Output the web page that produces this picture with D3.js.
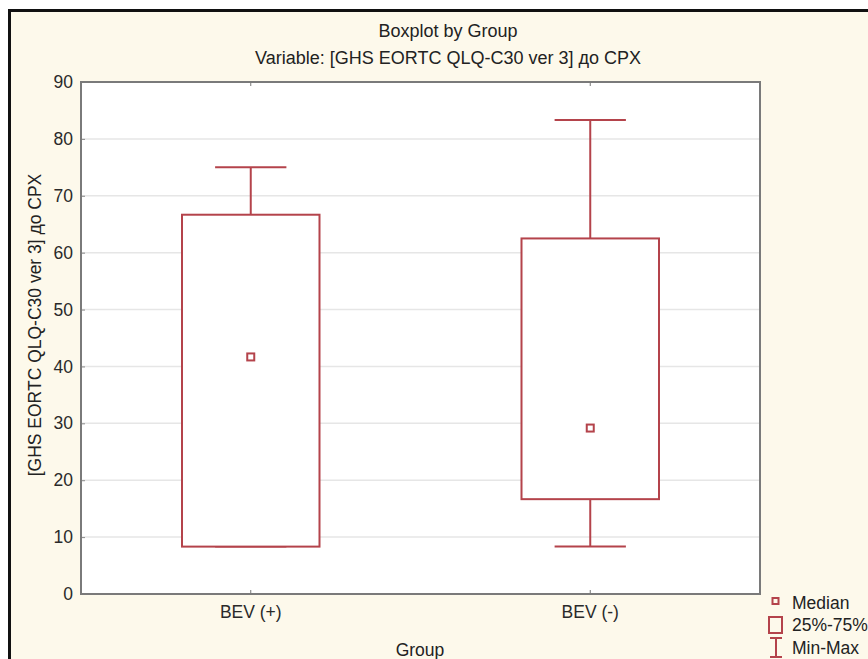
<!DOCTYPE html>
<html><head><meta charset="utf-8">
<script src="https://cdn.jsdelivr.net/npm/d3@7"></script>
<style>body{margin:0;background:#fff;} svg{display:block;font-family:"Liberation Sans",Arial,sans-serif;}</style>
</head><body>
<script>
const categories = ["BEV (+)", "BEV (-)"];
const minVals = [8.33, 8.33];
const q1Vals = [8.33, 16.67];
const medianVals = [41.67, 29.17];
const q3Vals = [66.67, 62.5];
const maxVals = [75, 83.33];
const yTicks = [0, 10, 20, 30, 40, 50, 60, 70, 80, 90];
const title1 = "Boxplot by Group";
const title2 = "Variable: [GHS EORTC QLQ-C30 ver 3]  до CPX";
const yTitle = "[GHS EORTC QLQ-C30 ver 3]  до CPX";
const xTitle = "Group";
const legendLabels = ["Median", "25%-75%", "Min-Max"];

const W = 868, H = 659;
const L = 81, R = 760, T = 82, B = 594;
const red = "#b4434b";
const FS = 17.5;

const svg = d3.select("body").append("svg").attr("width", W).attr("height", H);
svg.append("rect").attr("x", 0).attr("y", 0).attr("width", W).attr("height", H).attr("fill", "#fff");
svg.append("rect").attr("x", 9.5).attr("y", 10.5).attr("width", W + 20).attr("height", H + 20)
  .attr("fill", "#fdf9eb").attr("stroke", "#111").attr("stroke-width", 3);

const x = d3.scaleBand().domain(categories).range([L, R]).padding(0);
const y = d3.scaleLinear().domain([0, 90]).range([B, T]);

svg.append("rect").attr("x", L).attr("y", T).attr("width", R - L).attr("height", B - T).attr("fill", "#fff");

// gridlines
svg.append("g").selectAll("line").data(yTicks.filter(d => d > 0 && d < 90)).join("line")
  .attr("x1", L).attr("x2", R).attr("y1", d => y(d)).attr("y2", d => y(d))
  .attr("stroke", "#e6e6e6").attr("stroke-width", 1.5);

// axes
const yAxis = svg.append("g").attr("transform", `translate(${L},0)`)
  .call(d3.axisLeft(y).tickValues(yTicks).tickSize(-4).tickPadding(8));
yAxis.select(".domain").remove();
yAxis.selectAll("line").attr("stroke", "#888");
yAxis.selectAll("text").attr("font-size", FS).attr("fill", "#2a2a2a").attr("font-family", "Liberation Sans, Arial");

const xAxis = svg.append("g").attr("transform", `translate(0,${B})`)
  .call(d3.axisBottom(x).tickSize(-4).tickPadding(12));
xAxis.select(".domain").remove();
xAxis.selectAll("line").attr("stroke", "#777");
xAxis.selectAll("text").attr("font-size", FS).attr("fill", "#2a2a2a").attr("font-family", "Liberation Sans, Arial");

const xTop = svg.append("g").attr("transform", `translate(0,${T})`)
  .call(d3.axisTop(x).tickSize(-4).tickFormat(""));
xTop.select(".domain").remove();
xTop.selectAll("line").attr("stroke", "#777");

// plot frame
svg.append("rect").attr("x", L).attr("y", T).attr("width", R - L).attr("height", B - T)
  .attr("fill", "none").attr("stroke", "#7a7a7a").attr("stroke-width", 2);

// boxes
const bw = x.bandwidth() * 0.405, cw = x.bandwidth() * 0.21;
const g = svg.append("g").attr("stroke", red).attr("stroke-width", 2).attr("fill", "none");
categories.forEach((c, i) => {
  const cx = x(c) + x.bandwidth() / 2;
  g.append("line").attr("x1", cx).attr("x2", cx).attr("y1", y(maxVals[i])).attr("y2", y(q3Vals[i]));
  g.append("line").attr("x1", cx).attr("x2", cx).attr("y1", y(q1Vals[i])).attr("y2", y(minVals[i]));
  g.append("line").attr("x1", cx - cw / 2).attr("x2", cx + cw / 2).attr("y1", y(maxVals[i])).attr("y2", y(maxVals[i]));
  g.append("line").attr("x1", cx - cw / 2).attr("x2", cx + cw / 2).attr("y1", y(minVals[i])).attr("y2", y(minVals[i]));
  g.append("rect").attr("x", cx - bw / 2).attr("y", y(q3Vals[i])).attr("width", bw)
    .attr("height", y(q1Vals[i]) - y(q3Vals[i])).attr("fill", "#fff");
  g.append("rect").attr("x", cx - 3.5).attr("y", y(medianVals[i]) - 3.5).attr("width", 7).attr("height", 7).attr("fill", "#fff");
});

// titles
svg.append("text").attr("x", 448).attr("y", 37).attr("text-anchor", "middle").attr("font-size", 18)
  .attr("fill", "#222").text(title1);
svg.append("text").attr("x", 448).attr("y", 64).attr("text-anchor", "middle").attr("font-size", 18)
  .attr("fill", "#222").text(title2);
svg.append("text").attr("transform", "translate(41,325) rotate(-90)").attr("text-anchor", "middle")
  .attr("font-size", FS).attr("fill", "#222").text(yTitle);
svg.append("text").attr("x", 420).attr("y", 656).attr("text-anchor", "middle").attr("font-size", FS)
  .attr("fill", "#222").text(xTitle);

// legend
const lg = svg.append("g");
lg.append("rect").attr("x", 772.5).attr("y", 598).attr("width", 6).attr("height", 6).attr("fill", "none").attr("stroke", red).attr("stroke-width", 2);
lg.append("rect").attr("x", 769).attr("y", 617).attr("width", 13).attr("height", 16).attr("fill", "none").attr("stroke", red).attr("stroke-width", 2);
lg.append("line").attr("x1", 776).attr("x2", 776).attr("y1", 638).attr("y2", 657).attr("stroke", red).attr("stroke-width", 2);
lg.append("line").attr("x1", 770).attr("x2", 782).attr("y1", 638).attr("y2", 638).attr("stroke", red).attr("stroke-width", 2);
lg.append("line").attr("x1", 770).attr("x2", 782).attr("y1", 657).attr("y2", 657).attr("stroke", red).attr("stroke-width", 2);
[609, 631, 654].forEach((yy, i) => {
  lg.append("text").attr("x", 792).attr("y", yy).attr("font-size", FS).attr("fill", "#222").text(legendLabels[i]);
});
</script>
</body></html>
